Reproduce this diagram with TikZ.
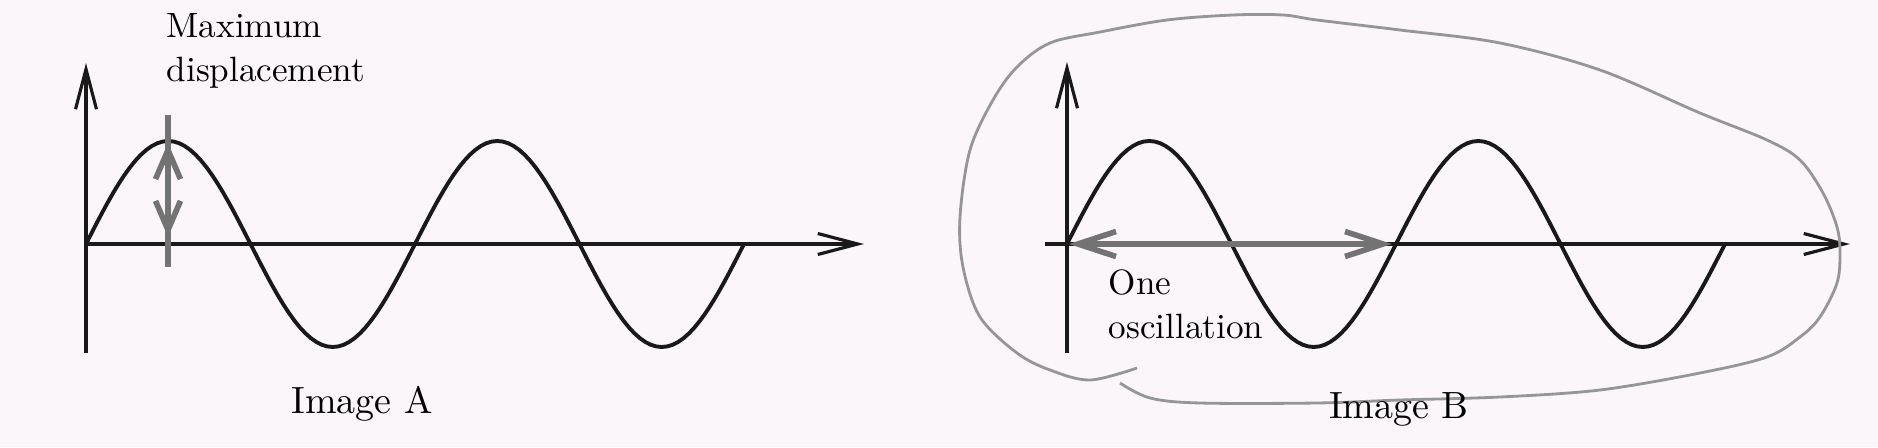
\documentclass[tikz,border=0pt]{standalone}
\usepackage{tikz}
\usetikzlibrary{arrows.meta, positioning}

\definecolor{paper}{RGB}{250,246,250}
\definecolor{pencil}{RGB}{150,150,150}
\definecolor{marker}{RGB}{115,115,115}

\tikzset{
    axis/.style={line width=0.9pt, black!90, -{Straight Barb[length=4mm,width=2.1mm]}},
    wave/.style={line width=1.1pt, black!90},
    markarrow/.style={marker, line width=1.6pt},
    marktips/.style={{Straight Barb[length=#1,width=2.5mm]}-{Straight Barb[length=#1,width=2.5mm]}},
    marktips/.default=3.8mm,
    txt/.style={inner sep=0pt, align=left, font=\fontsize{10}{12.8}\selectfont},
    caption/.style={inner sep=0pt, font=\fontsize{10.8}{13}\selectfont},
}

\begin{document}
\begin{tikzpicture}
    \useasboundingbox (0,0) rectangle (18.78,4.47);
    \fill[paper] (0,0) rectangle (18.78,4.47);

    % Image A
    \begin{scope}[shift={(0.86,2.03)}]
        \coordinate (OA) at (0,0);
        \coordinate (YAtop) at (0,1.81);
        \coordinate (YAbot) at (0,-1.09);
        \coordinate (XA) at (7.78,0);
        \draw[axis] (YAbot) -- (YAtop);
        \draw[axis] (OA) -- (XA);
        \draw[wave] plot[domain=0:6.58, samples=121] (\x,{1.03*sin(\x*180/1.645)});

        \coordinate (mdTop) at (0.82,1.29);
        \coordinate (mdHi) at (0.82,1.01);
        \coordinate (mdLo) at (0.82,0.07);
        \coordinate (mdBot) at (0.82,-0.23);
        \draw[markarrow] (mdTop) -- (mdBot);
        \draw[markarrow, marktips=2.9mm] (mdHi) -- (mdLo);
    \end{scope}

    % Image B
    \begin{scope}[shift={(10.67,2.03)}]
        \coordinate (OB) at (0,0);
        \coordinate (YBtop) at (0,1.82);
        \coordinate (YBbot) at (0,-1.09);
        \coordinate (XBleft) at (-0.22,0);
        \coordinate (XB) at (7.83,0);
        \draw[axis] (YBbot) -- (YBtop);
        \draw[axis] (XBleft) -- (XB);
        \draw[wave] plot[domain=0:6.58, samples=121] (\x,{1.03*sin(\x*180/1.645)});

        \coordinate (oscL) at (0.02,0);
        \coordinate (oscR) at (3.25,0);
        \draw[markarrow, marktips] (oscL) -- (oscR);
    \end{scope}

    % pencil loop round image B
    \draw[pencil, line width=0.8pt] plot[smooth, tension=0.55] coordinates {
        (11.37,0.79) (10.90,0.67) (10.50,0.77) (10.17,0.94) (9.80,1.30)
        (9.63,1.80) (9.60,2.30) (9.70,2.97) (9.93,3.47) (10.17,3.80)
        (10.50,4.04) (11.00,4.15) (11.67,4.27) (12.33,4.32) (12.83,4.32)
        (13.17,4.27) (14.00,4.17) (15.00,4.04) (16.00,3.77) (17.00,3.34)
        (17.67,3.07) (18.00,2.87) (18.23,2.54) (18.37,2.20) (18.40,1.94)
        (18.37,1.64) (18.20,1.30) (18.00,1.10) (17.67,0.90) (17.00,0.74)
        (16.00,0.57) (15.00,0.50) (14.00,0.47) (13.17,0.44) (12.00,0.44)
        (11.50,0.49) (11.20,0.64)};

    \node[txt, anchor=base west] (maxlbl) at (1.66,3.65) {Maximum\\displacement};
    \node[txt, anchor=base west] (osclbl) at (11.08,1.08) {One\\oscillation};
    \node[caption, anchor=base] (capA) at (3.62,0.34) {Image A};
    \node[caption, anchor=base] (capB) at (13.99,0.29) {Image B};
\end{tikzpicture}
\end{document}
